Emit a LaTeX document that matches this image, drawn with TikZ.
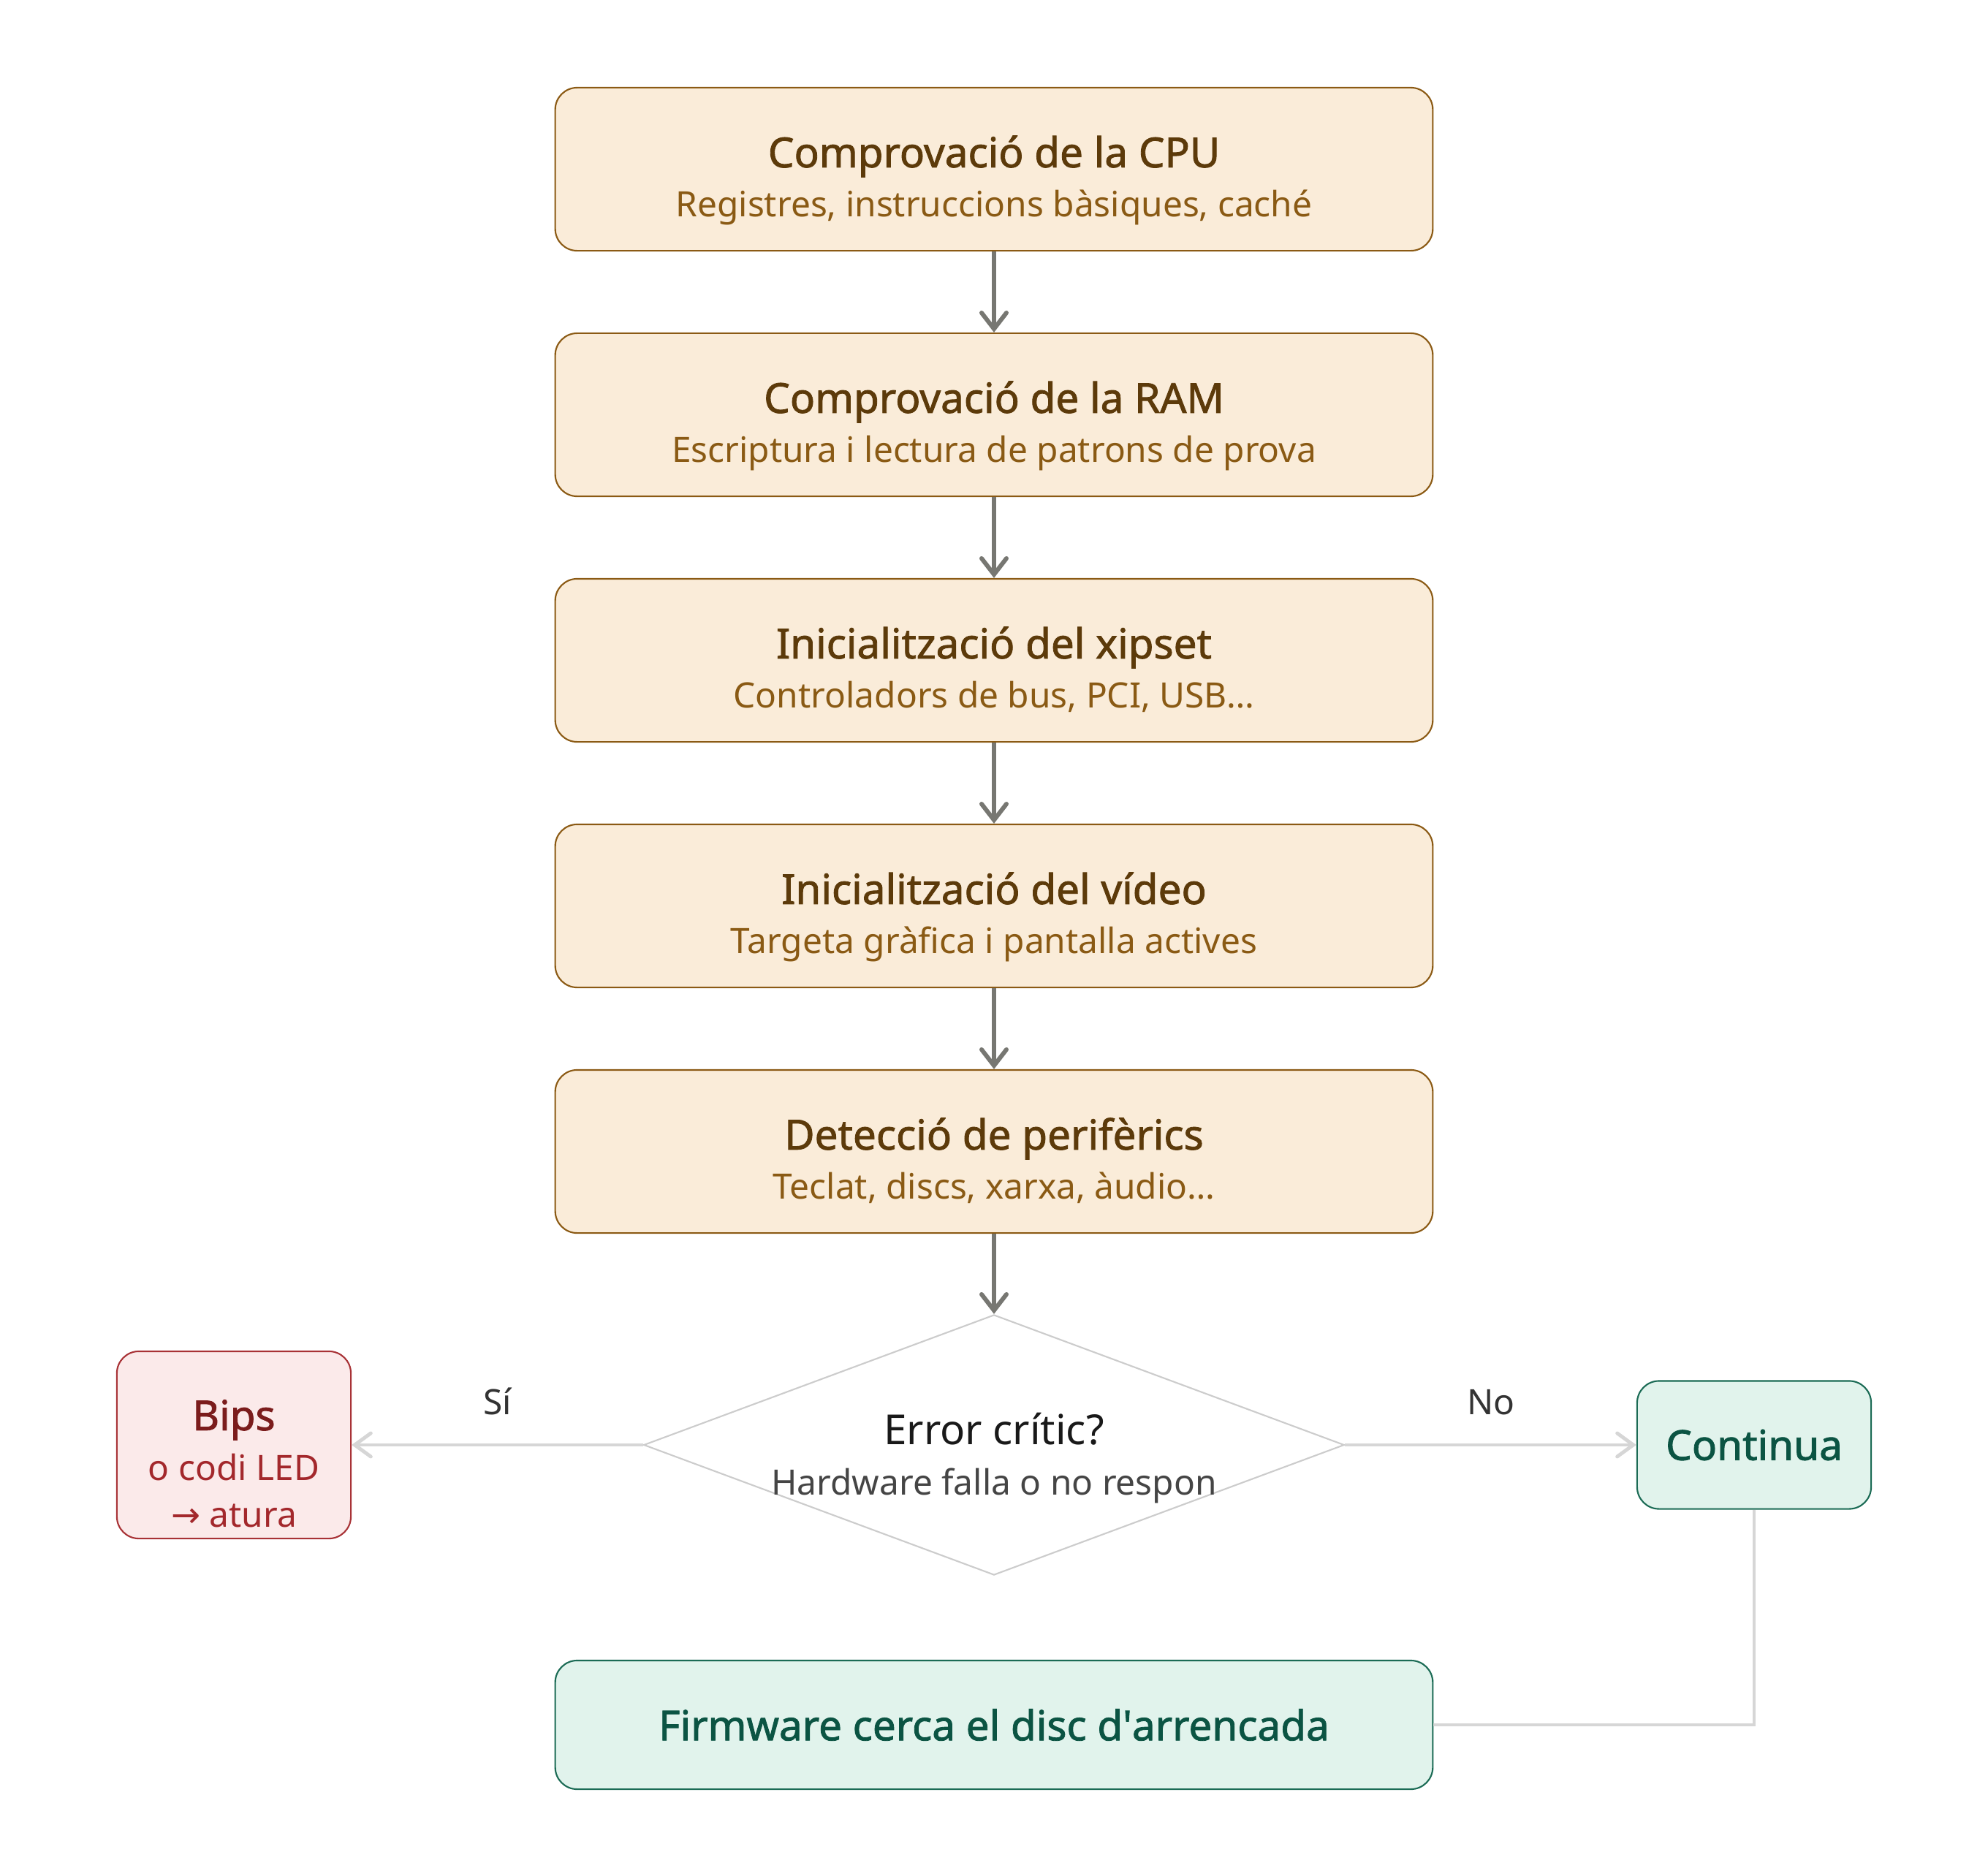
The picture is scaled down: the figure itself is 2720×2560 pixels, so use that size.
\documentclass[tikz,border=0pt]{standalone}
\usepackage{fontspec}
\setmainfont{Noto Sans}
\newfontfamily\headfont[FakeBold=1.5]{Noto Sans}
\newfontfamily\symfont{DejaVu Sans}
\usepackage{xcolor}
\usepackage{tikz}
\usetikzlibrary{shapes.geometric,arrows.meta,positioning,calc}

\definecolor{stepfill}{HTML}{FAECD9}
\definecolor{stepline}{HTML}{8B5A14}
\definecolor{stephead}{HTML}{5C3A0A}
\definecolor{stepdesc}{HTML}{8A5A14}
\definecolor{flowgray}{HTML}{777772}
\definecolor{branchgray}{HTML}{D6D6D6}
\definecolor{decline}{HTML}{CCCCCC}
\definecolor{failfill}{HTML}{FBEAEA}
\definecolor{failline}{HTML}{A83236}
\definecolor{failhead}{HTML}{7B1C1C}
\definecolor{faildesc}{HTML}{A3282C}
\definecolor{okfill}{HTML}{E1F3EC}
\definecolor{okline}{HTML}{1B6B55}
\definecolor{oktext}{HTML}{0B5443}

\begin{document}
\begin{tikzpicture}[x=0.01cm,y=-0.01cm,
  stepbox/.style={draw=stepline, fill=stepfill, line width=0.6pt, rounded corners=0.3cm,
    minimum width=12cm, minimum height=2.23cm, inner sep=0pt},
  head/.style={anchor=base, font=\headfont\fontsize{16.1}{19}\selectfont},
  desc/.style={anchor=base, font=\fontsize{13.6}{16}\selectfont},
  flow/.style={draw=flowgray, line width=1.7pt,
    -{Straight Barb[length=0.22cm, width=0.34cm, line cap=round]}},
  branch/.style={draw=branchgray, line width=1.4pt},
  decision/.style={diamond, draw=decline, line width=0.6pt, fill=white,
    minimum width=9.58cm, minimum height=3.56cm, inner sep=0pt},
  failbox/.style={draw=failline, fill=failfill, line width=0.6pt, rounded corners=0.3cm,
    minimum width=3.2cm, minimum height=2.56cm, inner sep=0pt},
  okbox/.style={draw=okline, fill=okfill, line width=0.6pt, rounded corners=0.3cm,
    inner sep=0pt, text=oktext, font=\headfont\fontsize{16.1}{19}\selectfont}
]
\useasboundingbox (0,0) rectangle (2720,2560);

% the five POST steps
\foreach \n/\yy/\ttl/\dsc in {
  1/231.5/{Comprovació de la CPU}/{Registres, instruccions bàsiques, caché},
  2/567.5/{Comprovació de la RAM}/{Escriptura i lectura de patrons de prova},
  3/903.5/{Inicialització del xipset}/{Controladors de bus, PCI, USB…},
  4/1239.5/{Inicialització del vídeo}/{Targeta gràfica i pantalla actives},
  5/1575.5/{Detecció de perifèrics}/{Teclat, discs, xarxa, àudio…}} {
    \node[stepbox] (s\n) at (1360,\yy) {};
    \node[head, text=stephead] (s\n h) at ($(s\n.north)+(0,110)$) {\ttl};
    \node[desc, text=stepdesc] (s\n d) at ($(s\n.north)+(0,178)$) {\dsc};
}

\foreach \a/\b in {1/2,2/3,3/4,4/5}
    \draw[flow] (s\a) -- (s\b);

% decision
\node[decision] (dec) at (1360,1977) {};
\node[head, text=black!90, font=\fontsize{16.1}{19}\selectfont] (dech) at (1360,1976) {Error crític?};
\node[desc, text=black!73] (decd) at (1360,2045) {Hardware falla o no respon};
\draw[flow] (s5) -- (dec.north);

% failure branch
\node[failbox] (bips) at (320,1977) {};
\node[head, text=failhead] (bipsh) at ($(bips.north)+(0,109)$) {Bips};
\node[desc, text=faildesc] (bipsd) at ($(bips.north)+(0,178)$) {o codi LED};
\node[desc, text=faildesc] (bipse) at ($(bips.north)+(0,242)$) {{\symfont →} atura};
\draw[branch, -{Straight Barb[length=0.22cm, width=0.32cm, line cap=round]}] (dec.west) -- (bips.east);
\node[desc, text=black!80] (si) at (681,1935) {Sí};

% success branch
\node[okbox, minimum width=3.2cm, minimum height=1.75cm] (cont) at (2400,1977) {Continua};
\draw[branch, -{Straight Barb[length=0.22cm, width=0.32cm, line cap=round]}] (dec.east) -- (cont.west);
\node[desc, text=black!80] (no) at (2040,1935) {No};

\node[okbox, minimum width=12cm, minimum height=1.76cm] (fw) at (1360,2360) {Firmware cerca el disc d\textquotesingle arrencada};
\draw[branch] (cont.south) |- (fw.east);
\end{tikzpicture}
\end{document}
